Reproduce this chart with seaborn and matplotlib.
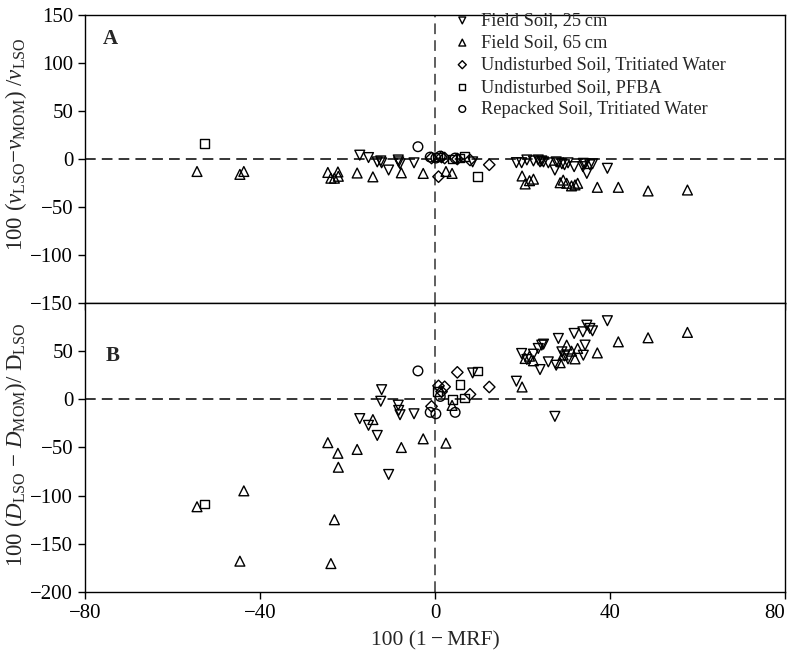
import matplotlib
matplotlib.use("Agg")
import matplotlib.pyplot as plt
import pandas as pd
import seaborn as sns

# Field Soil, 25 cm (down triangles): x = 100(1-MRF), A = velocity error, B = dispersion error
fs25_x = [-17.2, -15.2, -13.2, -12.2, -12.4, -10.6, -8.4, -8.3, -8.0, -4.8, 8.6, 18.6, 19.8, 21.0, 22.5,
          23.6, 24.0, 24.4, 24.8, 25.9, 27.4, 27.7, 28.2, 29.0, 29.6, 30.4, 31.8, 33.8, 33.9, 34.3,
          34.7, 35.4, 36.0, 39.4]
fs25_a = [4, 1.5, -3, -4, -2, -11.5, -1, -3, -5, -4, -3, -3.8, -3.9, -1, -2,
          -1, -3, -2, -3, -4, -11.5, -3, -4, -5, -6, -4, -8, -8, -4.5, -5,
          -15, -6, -5, -9.7]
fs25_b = [-20, -27, -37.5, 10, -2, -78, -6, -11.5, -16, -15, 27.4, 18.8, 47.6, 41.4, 46.9,
          52.8, 30.9, 56.3, 57.3, 38.9, -17.7, 35.4, 63.2, 49.3, 45, 42, 68.4, 70.1, 45.8, 56.3,
          77, 73.6, 71.1, 81.6]

# Field Soil, 65 cm (up triangles)
fs65_x = [-54.4, -44.6, -43.7, -24.5, -23.8, -23.0, -22.2, -22.1, -17.8, -14.2, -7.7, -2.7, 2.5, 3.9,
          19.9, 20.6, 21.6, 22.5, 28.6, 29.3, 30.1, 31.2, 32.0, 32.6, 37.1, 41.9, 48.7, 57.7]
fs65_a = [-13, -16, -13, -14, -20, -20, -13.5, -18, -14.6, -18.6, -14.4, -15, -13, -15,
          -17.7, -26, -22.6, -21, -24.7, -22, -25.3, -28, -27, -25.3, -29.5, -29.5, -33.3, -32.3]
fs65_b = [-111.5, -168, -95, -45, -170.5, -125, -56, -70.5, -52, -21, -50, -41, -45.5, -6.3,
          12.8, 42.4, 44.8, 40, 38, 46, 56.3, 50, 42, 52.8, 48.2, 59.7, 63.9, 69.5]

# Undisturbed Soil, Tritiated Water (diamonds)
utw_x = [-0.8, 0.8, 1.5, 2.2, 5.1, 8.0, 12.4]
utw_a = [1, -18.4, 2, 1, 0, -1, -6]
utw_b = [-7.3, 14, 8, 13, 28, 5.2, 12.8]

# Undisturbed Soil, PFBA (squares)
pfba_x = [-52.7, 0.5, 4.0, 5.7, 6.8, 9.7]
pfba_a = [16, 2, 0, 1, 3, -18.4]
pfba_b = [-108.6, 8, 0, 15.3, 1.4, 29.5]

# Repacked Soil, Tritiated Water (circles)
rtw_x = [-3.9, -1.1, 0.2, 1.2, 4.6]
rtw_a = [12.8, 2, 1, 3, 1]
rtw_b = [29.5, -13.5, -15, 3, -13.5]

series = [
    ("Field Soil, 25\u2009cm", "v", fs25_x, fs25_a, fs25_b),
    ("Field Soil, 65\u2009cm", "^", fs65_x, fs65_a, fs65_b),
    ("Undisturbed Soil, Tritiated Water", "D", utw_x, utw_a, utw_b),
    ("Undisturbed Soil, PFBA", "s", pfba_x, pfba_a, pfba_b),
    ("Repacked Soil, Tritiated Water", "o", rtw_x, rtw_a, rtw_b),
]
sizes = {"v": 50, "^": 50, "D": 34, "s": 40, "o": 48}

sns.set_style("ticks")
plt.rcParams["font.family"] = ["Liberation Serif", "DejaVu Serif"]
plt.rcParams["mathtext.fontset"] = "custom"
plt.rcParams["mathtext.rm"] = "Liberation Serif"
plt.rcParams["mathtext.it"] = "Liberation Serif:italic"
plt.rcParams["mathtext.bf"] = "Liberation Serif:bold"

fig = plt.figure(figsize=(7.88, 6.55), dpi=100)
axA = fig.add_axes([0.1079, 0.5374, 0.8883, 0.4397])
axB = fig.add_axes([0.1079, 0.0962, 0.8883, 0.4412])

for name, mk, xs, ya, yb in series:
    df = pd.DataFrame({"x": xs, "a": ya, "b": yb})
    sns.scatterplot(data=df, x="x", y="a", ax=axA, marker=mk, s=sizes[mk],
                    facecolors="none", edgecolor="black", linewidth=1.0, label=name)
    sns.scatterplot(data=df, x="x", y="b", ax=axB, marker=mk, s=sizes[mk],
                    facecolors="none", edgecolor="black", linewidth=1.0, legend=False)

for ax, lo, hi in [(axA, -150, 150), (axB, -200, 100)]:
    ax.axhline(0, color="black", lw=1.1, ls=(0, (7, 4)), zorder=0)
    ax.axvline(0, color="#333333", lw=1.1, ls=(0, (7, 4)), zorder=0)
    ax.set_xlim(-80, 80)
    ax.set_ylim(lo, hi)
    ax.set_xticks([-80, -40, 0, 40, 80])
    for s in ax.spines.values():
        s.set_linewidth(1.0)
        s.set_color("black")
    ax.tick_params(direction="out", length=5, width=1, labelsize=15, colors="black")

axA.set_yticks([-150, -100, -50, 0, 50, 100, 150])
axA.set_yticklabels(["\u2212150", "\u2212100", "\u221250", "0", "50", "100", "150"])
axA.tick_params(axis="x", labelbottom=False)
axB.set_yticks([-200, -150, -100, -50, 0, 50])
axB.set_yticklabels(["\u2212200", "\u2212150", "\u2212100", "\u221250", "0", "50"])
axB.set_xticklabels(["\u221280", "\u221240", "0", "40", "80"])
axB.get_xticklabels()[-1].set_horizontalalignment("right")

axA.set_xlabel("")
axB.set_xlabel("100 (1\u2009\u2212\u2009MRF)", fontsize=15.5, labelpad=6)
axA.set_ylabel(r"100 ($v_{\mathrm{LSO}}$$-$$v_{\mathrm{MOM}}$) /$v_{\mathrm{LSO}}$", fontsize=16.5)
axB.set_ylabel(r"100 ($D_{\mathrm{LSO}}$ $-$ $D_{\mathrm{MOM}}$)/ D$_{\mathrm{LSO}}$", fontsize=16.5)
axA.yaxis.set_label_coords(-0.08, 0.55)
axB.yaxis.set_label_coords(-0.08, 0.51)

axA.text(0.025, 0.90, "A", transform=axA.transAxes, fontsize=15, fontweight="bold")
axB.text(0.03, 0.80, "B", transform=axB.transAxes, fontsize=15, fontweight="bold")

axA.legend(loc="upper left", bbox_to_anchor=(0.518, 1.035), frameon=False, fontsize=13.2,
           markerscale=0.7, handlelength=0.8, handletextpad=0.6, labelspacing=0.28,
           borderaxespad=0)

fig.savefig("out.png", dpi=100)
